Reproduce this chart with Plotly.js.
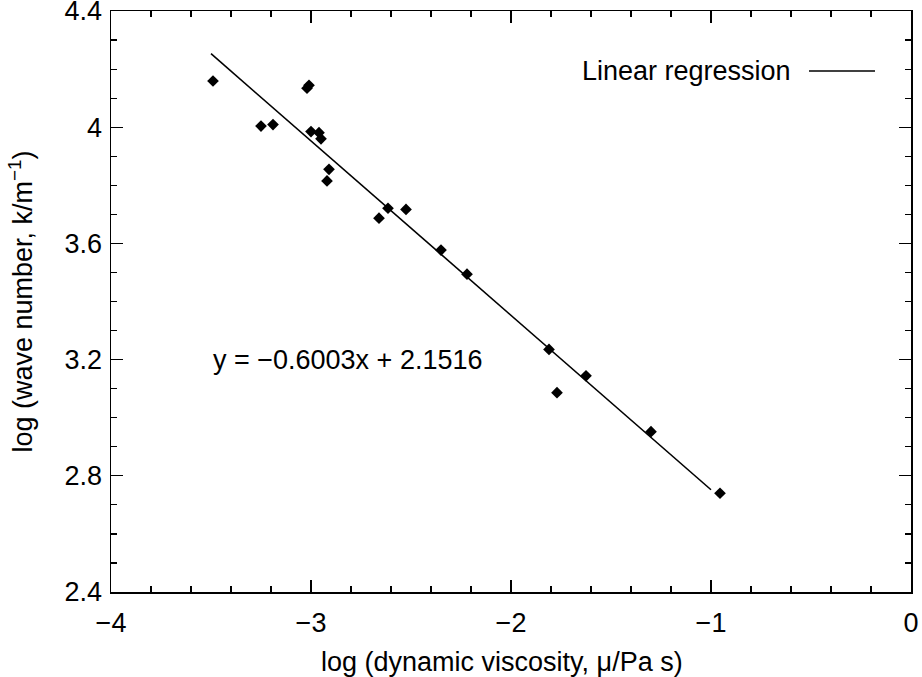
<!DOCTYPE html>
<html>
<head>
<meta charset="utf-8">
<script src="https://cdn.plot.ly/plotly-3.0.1.min.js"></script>
<style>html,body{margin:0;padding:0;background:#fff;}#chart{width:922px;height:677px;}</style>
</head>
<body>
<div id="chart"></div>
<script>
// Measured data: log(dynamic viscosity) vs log(wave number)
const logViscosity = [-3.49, -3.25, -3.19, -3.02, -3.01, -3.00, -2.96, -2.95, -2.91, -2.92,
                      -2.66, -2.615, -2.525, -2.35, -2.22, -1.81, -1.77, -1.625, -1.30, -0.955];
const logWaveNumber = [4.159, 4.004, 4.009, 4.134, 4.144, 3.985, 3.981, 3.960, 3.855, 3.815,
                       3.687, 3.721, 3.717, 3.577, 3.494, 3.235, 3.086, 3.144, 2.952, 2.740];
// Regression line end points
const fitX = [-3.5, -1.0];
const fitY = [4.253, 2.752];
const equationText = 'y = \u22120.6003x + 2.1516';
const legendText = 'Linear regression';
const xTitle = 'log (dynamic viscosity, \u03bc/Pa s)';
const yTitle = 'log (wave number, k/m<sup>\u22121</sup>)';

const FONT = 'Liberation Sans, Arial, Helvetica, sans-serif';
const FS = 27;

const traces = [
  {x: fitX, y: fitY, mode: 'lines', line: {color: '#000', width: 1.6}, showlegend: false, hoverinfo: 'skip'},
  {x: logViscosity, y: logWaveNumber, mode: 'markers',
   marker: {symbol: 'diamond', size: 9, color: '#000', line: {width: 0}}, showlegend: false}
];

const layout = {
  width: 922, height: 677,
  margin: {l: 111, r: 11, t: 11, b: 85},
  paper_bgcolor: '#fff', plot_bgcolor: '#fff',
  font: {family: FONT, size: FS, color: '#000'},
  showlegend: false,
  xaxis: {
    range: [-4, 0], dtick: 1, tick0: 0,
    ticks: 'inside', ticklen: 12, tickwidth: 1.2, tickcolor: '#000',
    minor: {dtick: 0.2, ticks: 'inside', ticklen: 6, tickwidth: 1.2, tickcolor: '#000'},
    showline: true, linecolor: '#000', linewidth: 1.5, mirror: 'ticks',
    showgrid: false, zeroline: false,
    ticklabelstandoff: 6, ticklabeloverflow: 'allow',
    tickfont: {family: FONT, size: FS}
  },
  yaxis: {
    range: [2.4, 4.4], dtick: 0.4, tick0: 0,
    ticks: 'inside', ticklen: 12, tickwidth: 1.2, tickcolor: '#000',
    minor: {dtick: 0.1, ticks: 'inside', ticklen: 6, tickwidth: 1.2, tickcolor: '#000'},
    showline: true, linecolor: '#000', linewidth: 1.5, mirror: 'ticks',
    showgrid: false, zeroline: false,
    ticklabelstandoff: 2, ticklabeloverflow: 'allow',
    tickfont: {family: FONT, size: FS},
    title: {text: yTitle, font: {family: FONT, size: FS}, standoff: 24}
  },
  annotations: [
    {xref: 'paper', yref: 'paper', x: 0.489, y: -0.1205, xanchor: 'center', yanchor: 'middle',
     text: xTitle, showarrow: false, font: {family: FONT, size: FS}},
    {xref: 'paper', yref: 'paper', x: 0.125, y: 0.399, xanchor: 'left', yanchor: 'middle',
     text: equationText, showarrow: false, font: {family: FONT, size: FS}},
    {xref: 'paper', yref: 'paper', x: 0.8525, y: 0.8967, xanchor: 'right', yanchor: 'middle',
     text: legendText, showarrow: false, font: {family: FONT, size: FS}}
  ],
  shapes: [
    {type: 'line', xref: 'paper', yref: 'paper', x0: 0.8725, x1: 0.955, y0: 0.8967, y1: 0.8967,
     line: {color: '#000', width: 1.6}}
  ]
};

Plotly.newPlot('chart', traces, layout, {displayModeBar: false, staticPlot: true});
</script>
</body>
</html>
